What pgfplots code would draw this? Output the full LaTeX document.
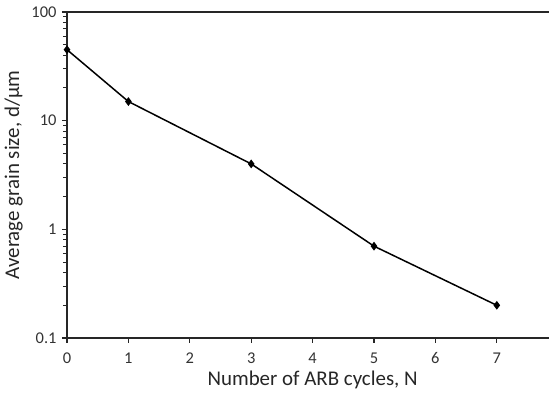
\documentclass[border=0pt]{standalone}
\usepackage{fontspec}
\setmainfont{Carlito}
\usepackage{pgfplots}
\pgfplotsset{compat=1.18}
\begin{document}
\begin{tikzpicture}
\begin{axis}[
  at={(0,0)}, anchor=south west,
  scale only axis,
  width=491.2bp, height=326bp,
  xmin=0, xmax=8,
  ymin=0.1, ymax=100,
  ymode=log,
  log basis y=10,
  axis line style={line width=1.6pt, black!85},
  xtick pos=bottom,
  ytick pos=left,
  xtick={0,1,2,3,4,5,6,7},
  ytick={0.1,1,10,100},
  yticklabels={0.1,1,10,100},
  minor ytick={0.2,0.3,0.4,0.5,0.6,0.7,0.8,0.9,2,3,4,5,6,7,8,9,20,30,40,50,60,70,80,90},
  every tick/.style={line width=1.2pt, black!85},
  every minor tick/.style={line width=1pt, black!85},
  tick align=outside,
  major tick length=5bp,
  minor tick length=4bp,
  tick label style={font=\fontsize{16.5}{18}\selectfont, text=black!80},
  xticklabel style={yshift=-6bp},
  yticklabel style={xshift=-2bp},
  /pgf/number format/assume math mode=true,
  xlabel={Number of ARB cycles, N},
  ylabel={Average grain size, d/µm},
  label style={font=\fontsize{21}{24}\selectfont, text=black!85},
  xlabel style={yshift=0bp},
  ylabel style={yshift=2bp},
]
\addplot[black, line width=1.5pt, mark=diamond*, mark size=3.2bp] coordinates {
  (0,45) (1,15) (3,4) (5,0.7) (7,0.2)
};
\end{axis}
\pgfresetboundingbox
\path (-67bp,-64bp) rectangle (482bp,338bp);
\end{tikzpicture}
\end{document}
